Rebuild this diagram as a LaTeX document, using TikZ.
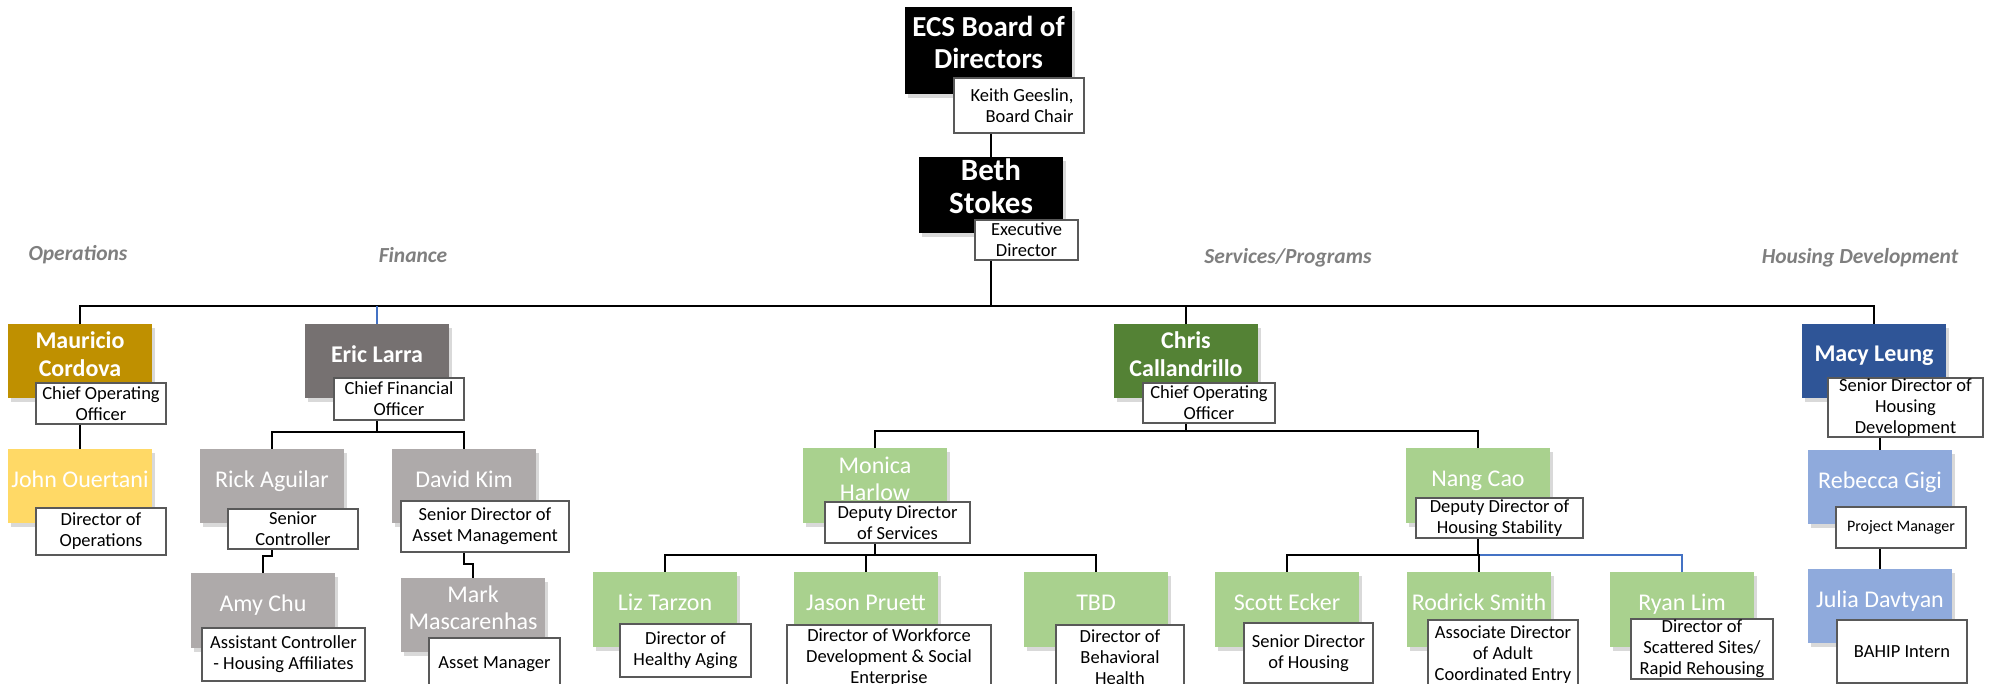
\documentclass[tikz,border=0pt]{standalone}
\usepackage{fontspec}
\setmainfont{Carlito}
\usetikzlibrary{shadows}
\definecolor{gold}{HTML}{BF9000}
\definecolor{cfogray}{HTML}{767171}
\definecolor{svcgreen}{HTML}{548235}
\definecolor{hsgblue}{HTML}{2F5597}
\definecolor{yel}{HTML}{FFD966}
\definecolor{fingray}{HTML}{AEAAAA}
\definecolor{lgreen}{HTML}{A9D18E}
\definecolor{lblue}{HTML}{8FAADC}
\definecolor{linkblue}{HTML}{4472C4}
\definecolor{bordergray}{HTML}{595959}
\definecolor{sectgray}{HTML}{7F7F7F}
\tikzset{
  namebox/.style={rectangle, minimum width=144pt, minimum height=74pt, text=white, align=center, inner sep=2pt,
    drop shadow={opacity=0.3, shadow xshift=3pt, shadow yshift=-4pt}},
  topbox/.style={namebox, fill=black, text depth=17pt},
  leadbox/.style={namebox, font=\fontsize{24}{27.5}\selectfont\bfseries, text depth=14pt},
  staffbox/.style={namebox, font=\fontsize{24}{27}\selectfont, text depth=14pt},
  titlebox/.style={rectangle, draw=bordergray, line width=2pt, fill=white, align=center, inner sep=1pt,
    font=\fontsize{18.5}{21}\selectfont},
  conn/.style={line width=2.5pt, draw=black},
  bconn/.style={line width=2.5pt, draw=linkblue},
  sectlabel/.style={font=\fontsize{21.5}{25}\selectfont\bfseries\itshape, text=sectgray},
}
\begin{document}
\begin{tikzpicture}[x=1pt,y=-1pt]
\useasboundingbox (0,0) rectangle (1994,684);
\clip (0,0) rectangle (1994,684);

% section labels
\node[sectlabel] (secops) at (78,255) {Operations};
\node[sectlabel] (secfin) at (413,255) {Finance};
\node[sectlabel] (secsvc) at (1288,258) {Services/Programs};
\node[sectlabel] (sechsg) at (1860,258) {Housing Development};

% top
\node[topbox, minimum width=167pt, minimum height=87pt, font=\fontsize{29}{32}\selectfont\bfseries] (board) at (988.5,50.5) {ECS Board of\\Directors};
\node[titlebox, minimum width=130pt, minimum height=55pt, align=right] (keith) at (1019,105.5) {\hspace*{6pt}Keith Geeslin,\\Board Chair};
\node[topbox, font=\fontsize{31}{33}\selectfont\bfseries] (beth) at (991,195) {Beth\\Stokes};
\node[titlebox, minimum width=103pt, minimum height=40pt] (exec) at (1026.5,240) {Executive\\Director};

% level 2
\node[leadbox, fill=gold] (mauricio) at (80,361) {Mauricio\\Cordova};
\node[leadbox, fill=cfogray] (eric) at (377,361) {Eric Larra};
\node[leadbox, fill=svcgreen] (chris) at (1186,361) {Chris\\Callandrillo};
\node[leadbox, fill=hsgblue] (macy) at (1874,361) {Macy Leung};

\node[titlebox, minimum width=130pt, minimum height=41pt] (mcoo) at (101,403.5) {Chief Operating\\Officer};
\node[titlebox, minimum width=130pt, minimum height=42pt] (cfo) at (399,399) {Chief Financial\\Officer};
\node[titlebox, minimum width=132pt, minimum height=40pt] (ccoo) at (1209,403) {Chief Operating\\Officer};
\node[titlebox, minimum width=155pt, minimum height=59pt] (sdhd) at (1905.5,407.5) {Senior Director of\\Housing\\Development};

% operations
\node[staffbox, fill=yel] (john) at (80,486) {John Ouertani};
\node[titlebox, minimum width=130pt, minimum height=47pt] (dirops) at (101,531.5) {Director of\\Operations};

% finance
\node[staffbox, fill=fingray] (rick) at (272,486) {Rick Aguilar};
\node[titlebox, minimum width=130pt, minimum height=40pt] (sc) at (293,529) {Senior\\Controller};
\node[staffbox, fill=fingray] (david) at (464,486) {David Kim};
\node[titlebox, minimum width=168pt, minimum height=51pt] (sdam) at (485,526.5) {Senior Director of\\Asset Management};
\node[staffbox, fill=fingray, minimum height=75pt] (amy) at (263,610.5) {Amy Chu};
\node[titlebox, minimum width=163pt, minimum height=53pt] (ac) at (283.5,654.5) {Assistant Controller\\- Housing Affiliates};
\node[staffbox, fill=fingray] (mark) at (473,615) {Mark\\Mascarenhas};
\node[titlebox, minimum width=131pt, minimum height=52pt] (am) at (494.5,664) {Asset Manager};

% services
\node[staffbox, fill=lgreen, minimum height=75pt] (monica) at (875,485.5) {Monica\\Harlow};
\node[titlebox, minimum width=145pt, minimum height=41pt] (dds) at (897.5,522.5) {Deputy Director\\of Services};
\node[staffbox, fill=lgreen, minimum height=75pt] (nang) at (1478,485.5) {Nang Cao};
\node[titlebox, minimum width=167pt, minimum height=40pt] (ddhs) at (1499.5,518) {Deputy Director of\\Housing Stability};

\node[staffbox, fill=lgreen, minimum height=75pt] (liz) at (665,609.5) {Liz Tarzon};
\node[titlebox, minimum width=131pt, minimum height=53pt] (dha) at (685.5,650.5) {Director of\\Healthy Aging};
\node[staffbox, fill=lgreen, minimum height=75pt] (jason) at (866,609.5) {Jason Pruett};
\node[titlebox, minimum width=204pt, minimum height=65pt] (dwf) at (889,657.5) {Director of Workforce\\Development \& Social\\Enterprise};
\node[staffbox, fill=lgreen, minimum height=75pt] (tbd) at (1096,609.5) {TBD};
\node[titlebox, minimum width=128pt, minimum height=65pt] (dbh) at (1120,657.5) {Director of\\Behavioral\\Health};

\node[staffbox, fill=lgreen, minimum height=75pt] (scott) at (1287,609.5) {Scott Ecker};
\node[titlebox, minimum width=129pt, minimum height=60pt] (sdh) at (1308.5,653) {Senior Director\\of Housing};
\node[staffbox, fill=lgreen, minimum height=75pt] (rodrick) at (1479,609.5) {Rodrick Smith};
\node[titlebox, minimum width=150pt, minimum height=70pt] (adace) at (1503,655) {Associate Director\\of Adult\\Coordinated Entry};
\node[staffbox, fill=lgreen, minimum height=75pt] (ryan) at (1682,609.5) {Ryan Lim};
\node[titlebox, minimum width=142pt, minimum height=60pt] (dss) at (1702,649) {Director of\\Scattered Sites/\\Rapid Rehousing};

% housing
\node[staffbox, fill=lblue] (rebecca) at (1880,487) {Rebecca Gigi};
\node[titlebox, minimum width=130pt, minimum height=41pt, font=\fontsize{16}{19}\selectfont] (pm) at (1901,527.5) {Project Manager};
\node[staffbox, fill=lblue] (julia) at (1880,606) {Julia Davtyan};
\node[titlebox, minimum width=130pt, minimum height=63pt, font=\fontsize{18.5}{21}\selectfont] (bahip) at (1902,651.5) {BAHIP Intern};

% connectors
\coordinate (bus) at (991,306);
\draw[conn] (keith.south -| beth.north) -- (beth.north);
\draw[conn] (exec.south -| beth.south) -- (bus);
\draw[conn] (mauricio.north) |- (bus) -| (macy.north);
\draw[conn] (chris.north) -- (chris.north |- bus);
\draw[bconn] (eric.north) -- (eric.north |- bus);

\draw[conn] (mcoo.south -| mauricio.south) -- (john.north);

\coordinate (finbus) at (377,432);
\draw[conn] (cfo.south -| eric.south) -- (finbus);
\draw[conn] (rick.north) |- (finbus) -| (david.north);
\draw[conn] (sc.south -| rick.south) -- ++(0,6) -| (amy.north);
\draw[conn] (sdam.south -| david.south) -- ++(0,11) -| (mark.north);

\coordinate (svcbus) at (1186,431);
\draw[conn] (ccoo.south -| chris.south) -- (svcbus);
\draw[conn] (monica.north) |- (svcbus) -| (nang.north);

\coordinate (monbus) at (875,555);
\draw[conn] (dds.south -| monica.south) -- (monbus);
\draw[conn] (liz.north) |- (monbus) -| (tbd.north);
\draw[conn] (jason.north) -- (jason.north |- monbus);

\coordinate (nangbus) at (1478,555);
\draw[bconn] (nangbus) -| (ryan.north);
\draw[conn] (ddhs.south -| nang.south) -- (nangbus);
\draw[conn] (scott.north) |- (nangbus) -| (rodrick.north);

\draw[conn] (sdhd.south -| rebecca.north) -- (rebecca.north);
\draw[conn] (pm.south -| rebecca.south) -- (julia.north);
\end{tikzpicture}
\end{document}
